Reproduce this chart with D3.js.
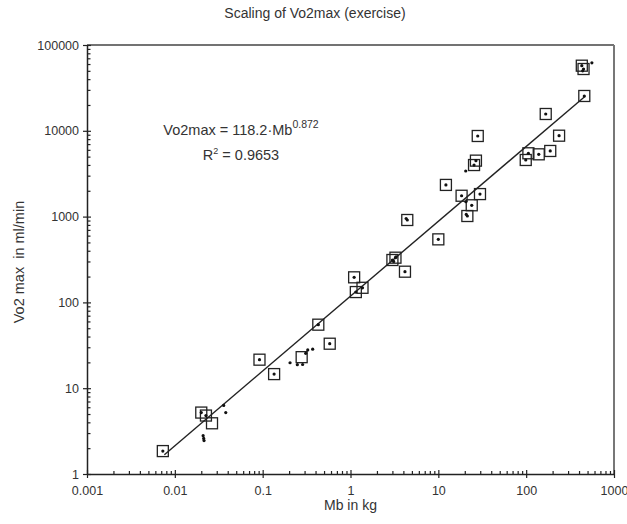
<!DOCTYPE html>
<html>
<head>
<meta charset="utf-8">
<script src="https://cdn.jsdelivr.net/npm/d3@7"></script>
<style>
body { margin: 0; background: #fff; }
svg { font-family: "Liberation Sans", Arial, sans-serif; }
</style>
</head>
<body>
<svg id="chart" width="627" height="524"></svg>
<script>
// boxed points (square with a dot in the middle)
var boxMb  = [0.0073, 0.020, 0.0226, 0.092, 0.135, 0.43, 0.58, 1.1, 1.15, 1.37, 3.0, 3.25, 4.17, 4.43,
              10, 12.2, 18.4, 29.8, 24, 21.4, 26.8, 25.5, 28.1, 98.9, 106, 139, 188, 237, 167, 459, 430, 450];
var boxVo2 = [1.85, 5.2, 4.8, 21.5, 14.6, 55, 33, 196, 132, 148, 312, 332, 228, 913,
              543, 2340, 1750, 1830, 1355, 1016, 4490, 3990, 8700, 4570, 5470, 5320, 5820, 8770, 15700, 25460, 57400, 52500];

// empty squares
var openMb  = [0.0265, 0.278];
var openVo2 = [3.9, 23];

// loose dots
var dotMb  = [0.021, 0.0213, 0.0215, 0.036, 0.038, 0.205, 0.248, 0.285, 0.309, 0.326, 0.371,
              3.1, 3.3, 4.3, 20.5, 20.6, 20.8, 440, 560];
var dotVo2 = [2.8, 2.6, 2.45, 6.3, 5.2, 19.8, 18.8, 18.9, 25.5, 27.9, 28.5,
              300, 340, 950, 3400, 1490, 1060, 50000, 62000];

// regression line end points
var fitMb  = [0.0076, 470];
var fitVo2 = [1.68, 25300];

var xMajor = [0.001, 0.01, 0.1, 1, 10, 100, 1000];
var yMajor = [1, 10, 100, 1000, 10000, 100000];

var plotLeft = 87, plotRight = 614, plotTop = 45, plotBottom = 474;
var ink = "#222";
var txt = "#333";

var svg = d3.select("#chart");

var x = d3.scaleLog().domain([0.001, 1000]).range([plotLeft, plotRight]);
var y = d3.scaleLog().domain([1, 100000]).range([plotBottom, plotTop]);

function minors(majors) {
    var out = [];
    for (var i = 0; i < majors.length - 1; i++) {
        for (var m = 2; m < 10; m++) out.push(majors[i] * m);
    }
    return out;
}

// frame (top and right)
svg.append("line").attr("x1", plotLeft).attr("x2", plotRight).attr("y1", plotTop).attr("y2", plotTop)
    .attr("stroke", "#444").attr("stroke-width", 1.5);
svg.append("line").attr("x1", plotRight).attr("x2", plotRight).attr("y1", plotTop).attr("y2", plotBottom)
    .attr("stroke", "#777").attr("stroke-width", 2);

// x axis
var xAxis = svg.append("g").attr("transform", "translate(0," + plotBottom + ")")
    .call(d3.axisBottom(x).tickValues(xMajor).tickFormat(d3.format("~g")).tickSize(4).tickPadding(8).tickSizeOuter(0));
xAxis.selectAll(".tick line").attr("y1", -4);
svg.append("g").attr("transform", "translate(0," + plotBottom + ")")
    .call(d3.axisBottom(x).tickValues(minors(xMajor)).tickFormat("").tickSize(-3).tickSizeOuter(0))
    .select(".domain").remove();

// y axis
var yAxis = svg.append("g").attr("transform", "translate(" + plotLeft + ",0)")
    .call(d3.axisLeft(y).tickValues(yMajor).tickFormat(d3.format("d")).tickSize(4).tickPadding(4).tickSizeOuter(0));
yAxis.selectAll(".tick line").attr("x1", 4);
svg.append("g").attr("transform", "translate(" + plotLeft + ",0)")
    .call(d3.axisLeft(y).tickValues(minors(yMajor)).tickFormat("").tickSize(-3.5).tickSizeOuter(0))
    .select(".domain").remove();

svg.selectAll(".domain").attr("stroke", ink).attr("stroke-width", 1.5);
svg.selectAll(".tick line").attr("stroke", ink).attr("stroke-width", 1.2);
svg.selectAll(".tick text").attr("fill", txt).style("font-size", "12.5px");

// fit line
svg.append("line")
    .attr("x1", x(fitMb[0])).attr("y1", y(fitVo2[0]))
    .attr("x2", x(fitMb[1])).attr("y2", y(fitVo2[1]))
    .attr("stroke", ink).attr("stroke-width", 1.4);

// boxes
var boxes = boxMb.map(function(d, i){ return {mb: d, v: boxVo2[i]}; });
var opens = openMb.map(function(d, i){ return {mb: d, v: openVo2[i]}; });
var dots = dotMb.map(function(d, i){ return {mb: d, v: dotVo2[i]}; });
var bs = 11;

svg.append("g").selectAll("rect")
    .data(boxes.concat(opens))
    .enter().append("rect")
    .attr("x", function(d){ return x(d.mb) - bs / 2; })
    .attr("y", function(d){ return y(d.v) - bs / 2; })
    .attr("width", bs).attr("height", bs)
    .attr("fill", "none")
    .attr("stroke", ink).attr("stroke-width", 1.3);

svg.append("g").selectAll("circle")
    .data(boxes.concat(dots))
    .enter().append("circle")
    .attr("cx", function(d){ return x(d.mb); })
    .attr("cy", function(d){ return y(d.v); })
    .attr("r", 1.6)
    .attr("fill", "#111");

// title and labels
svg.append("text").attr("x", 315).attr("y", 18).attr("text-anchor", "middle")
    .attr("fill", txt).style("font-size", "14px").text("Scaling of Vo2max (exercise)");

svg.append("text").attr("x", 350.5).attr("y", 510).attr("text-anchor", "middle")
    .attr("fill", txt).style("font-size", "14px").text("Mb in kg");

svg.append("text").attr("transform", "translate(24,262) rotate(-90)").attr("text-anchor", "middle")
    .attr("fill", txt).style("font-size", "14.5px").style("white-space", "pre").text("Vo2 max  in ml/min");

// equation
var eq = svg.append("text").attr("x", 241).attr("y", 135).attr("text-anchor", "middle")
    .attr("fill", txt).style("font-size", "14.5px");
eq.append("tspan").text("Vo2max = 118.2\u00b7Mb");
eq.append("tspan").attr("dy", -7.5).style("font-size", "10.5px").text("0.872");

var r2 = svg.append("text").attr("x", 241).attr("y", 160).attr("text-anchor", "middle")
    .attr("fill", txt).style("font-size", "14.5px");
r2.append("tspan").text("R");
r2.append("tspan").attr("dy", -6).style("font-size", "9px").text("2");
r2.append("tspan").attr("dy", 6).text(" = 0.9653");
</script>
</body>
</html>
